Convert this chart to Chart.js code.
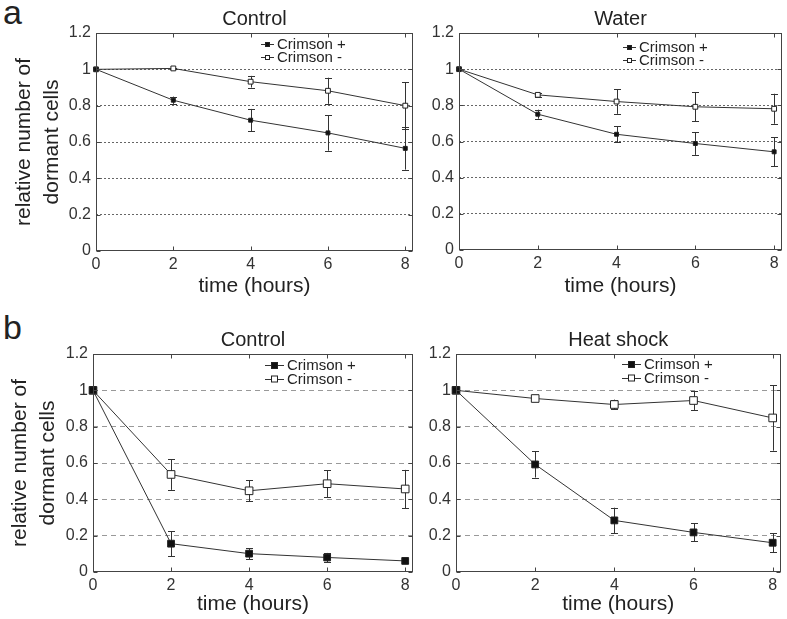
<!DOCTYPE html>
<html>
<head>
<meta charset="utf-8">
<script src="https://cdn.jsdelivr.net/npm/chart.js@4.4.1/dist/chart.umd.min.js"></script>
<style>
body{margin:0;background:#fff;width:787px;height:619px;position:relative;overflow:hidden;font-family:'Liberation Sans',Arial,sans-serif}
canvas{position:absolute}
.lbl{position:absolute;font-size:34px;color:#222;line-height:1}
</style>
</head>
<body>
<div class="lbl" style="left:3px;top:-5px">a</div>
<div class="lbl" style="left:3px;top:310px">b</div>
<canvas id="c1" width="420" height="299" style="left:0;top:0"></canvas>
<canvas id="c2" width="367" height="299" style="left:420px;top:0"></canvas>
<canvas id="c3" width="420" height="319" style="left:0;top:300px"></canvas>
<canvas id="c4" width="367" height="319" style="left:420px;top:300px"></canvas>
<script>
const hours = [0, 2, 4, 6, 8];
const xTicks = [0, 2, 4, 6, 8];
const yTicks = [0, 0.2, 0.4, 0.6, 0.8, 1, 1.2];
const seriesNames = ['Crimson +', 'Crimson -'];

// a - Control
const aCtrlPlus = [1, 0.83, 0.72, 0.65, 0.565];
const aCtrlPlusErr = [0, 0.02, 0.062, 0.098, 0.117];
const aCtrlMinus = [1, 1.005, 0.932, 0.882, 0.80];
const aCtrlMinusErr = [0, 0.005, 0.032, 0.072, 0.13];
// a - Water
const aWaterPlus = [1, 0.751, 0.64, 0.589, 0.543];
const aWaterPlusErr = [0, 0.025, 0.045, 0.063, 0.08];
const aWaterMinus = [1, 0.858, 0.821, 0.792, 0.781];
const aWaterMinusErr = [0, 0.01, 0.068, 0.08, 0.083];
// b - Control
const bCtrlPlus = [1, 0.156, 0.101, 0.08, 0.061];
const bCtrlPlusErr = [0, 0.069, 0.03, 0.025, 0.01];
const bCtrlMinus = [1, 0.537, 0.447, 0.486, 0.457];
const bCtrlMinusErr = [0, 0.085, 0.058, 0.075, 0.105];
// b - Heat shock
const bHeatPlus = [1, 0.592, 0.284, 0.218, 0.161];
const bHeatPlusErr = [0, 0.072, 0.07, 0.05, 0.052];
const bHeatMinus = [1, 0.955, 0.922, 0.944, 0.848];
const bHeatMinusErr = [0, 0.01, 0.027, 0.052, 0.18];

const FONT = "'Liberation Sans', Arial, sans-serif";

// error bars, frame, title, legend
const panelPlugin = {
    id: 'panel',
    beforeDatasetsDraw(chart) {
        const ctx = chart.ctx, ys = chart.scales.y;
        ctx.save();
        ctx.strokeStyle = '#333';
        ctx.lineWidth = 1;
        chart.data.datasets.forEach((ds, di) => {
            chart.getDatasetMeta(di).data.forEach((pt, i) => {
                const e = ds.err[i];
                if (!e) return;
                const v = ds.data[i].y;
                const x = Math.round(pt.x) + 0.5;
                const y1 = ys.getPixelForValue(v + e), y2 = ys.getPixelForValue(v - e);
                ctx.beginPath();
                ctx.moveTo(x, y1); ctx.lineTo(x, y2);
                ctx.moveTo(x - 3.5, Math.round(y1) + 0.5); ctx.lineTo(x + 3.5, Math.round(y1) + 0.5);
                ctx.moveTo(x - 3.5, Math.round(y2) + 0.5); ctx.lineTo(x + 3.5, Math.round(y2) + 0.5);
                ctx.stroke();
            });
        });
        ctx.restore();
    },
    afterDraw(chart, args, o) {
        const ctx = chart.ctx, a = chart.chartArea;
        const xs = chart.scales.x, ys = chart.scales.y;
        ctx.save();
        // frame with inward ticks
        ctx.strokeStyle = '#444';
        ctx.lineWidth = 1;
        const L = Math.round(a.left) + 0.5, R = Math.round(a.right) - 0.5;
        const T = Math.round(a.top) + 0.5, B = Math.round(a.bottom) - 0.5;
        ctx.strokeRect(L, T, R - L, B - T);
        ctx.beginPath();
        xTicks.forEach(v => {
            const x = Math.round(xs.getPixelForValue(v)) + 0.5;
            ctx.moveTo(x, B); ctx.lineTo(x, B - 4);
            ctx.moveTo(x, T); ctx.lineTo(x, T + 4);
        });
        yTicks.forEach(v => {
            const y = Math.round(ys.getPixelForValue(v)) + 0.5;
            ctx.moveTo(L, y); ctx.lineTo(L + 4, y);
            ctx.moveTo(R, y); ctx.lineTo(R - 4, y);
        });
        ctx.stroke();
        // title
        ctx.fillStyle = '#222';
        ctx.font = '20px ' + FONT;
        ctx.textAlign = 'center';
        ctx.textBaseline = 'middle';
        ctx.fillText(o.title, (a.left + a.right) / 2, a.top - 14);
        // legend
        ctx.textAlign = 'left';
        ctx.font = o.legendFont + 'px ' + FONT;
        chart.data.datasets.forEach((ds, i) => {
            const y = o.legendY + i * o.legendGap;
            const x0 = o.legendX, x1 = o.legendX + o.legendLine;
            ctx.strokeStyle = '#333';
            ctx.beginPath();
            ctx.moveTo(x0, Math.round(y) + 0.5); ctx.lineTo(x1, Math.round(y) + 0.5);
            ctx.stroke();
            const s = o.legendMark, cx = (x0 + x1) / 2;
            ctx.fillStyle = i === 0 ? '#111' : '#fff';
            ctx.fillRect(cx - s / 2, y - s / 2 + 0.5, s, s);
            ctx.strokeStyle = '#222';
            ctx.strokeRect(cx - s / 2, y - s / 2 + 0.5, s, s);
            ctx.fillStyle = '#222';
            ctx.fillText(ds.label, x1 + 3, y + 1);
        });
        ctx.restore();
    }
};

function makePanel(id, o) {
    const ds = (k, vals, errs) => ({
        label: seriesNames[k],
        data: vals.map((v, i) => ({x: hours[i], y: v})),
        err: errs,
        borderColor: '#333',
        borderWidth: 1,
        pointStyle: 'rect',
        pointRadius: k === 0 ? o.r : o.r + 0.6,
        pointBackgroundColor: k === 0 ? '#111' : '#fff',
        pointBorderColor: '#222',
        pointBorderWidth: 1,
        tension: 0,
        clip: false
    });
    new Chart(document.getElementById(id), {
        type: 'line',
        data: {datasets: [ds(0, o.plus, o.plusErr), ds(1, o.minus, o.minusErr)]},
        options: {
            responsive: false,
            animation: false,
            events: [],
            layout: {padding: {top: o.top, right: o.right, left: 0, bottom: o.bottom}},
            plugins: {legend: {display: false}, tooltip: {enabled: false}, panel: o},
            scales: {
                x: {
                    type: 'linear', min: 0, max: 8.2,
                    afterBuildTicks: s => { s.ticks = xTicks.map(v => ({value: v})); },
                    afterFit: s => { s.height = o.xh; },
                    grid: {display: false},
                    border: {display: false},
                    ticks: {color: '#333', font: {size: 16, family: FONT}, padding: -4, maxRotation: 0},
                    title: {display: true, text: 'time (hours)', color: '#222', font: {size: 21, family: FONT}, padding: 0}
                },
                y: {
                    min: 0, max: 1.2,
                    afterBuildTicks: s => { s.ticks = yTicks.map(v => ({value: v})); },
                    afterFit: s => { s.width = o.yw; },
                    grid: {
                        drawTicks: false,
                        color: c => (c.tick && (c.tick.value < 0.01 || c.tick.value > 1.19)) ? 'rgba(0,0,0,0)' : o.gridColor
                    },
                    border: {display: false, dash: o.dash},
                    ticks: {
                        color: '#333', font: {size: 16, family: FONT}, padding: 5,
                        callback: v => String(+(+v).toFixed(1))
                    },
                    title: {
                        display: o.ytitle, text: ['relative number of', 'dormant cells'],
                        color: '#222', font: {size: 21, family: FONT, lineHeight: 1.3},
                        padding: {top: o.ytpad, bottom: 0}
                    }
                }
            }
        },
        plugins: [panelPlugin]
    });
}

makePanel('c1', {
    title: 'Control', plus: aCtrlPlus, plusErr: aCtrlPlusErr, minus: aCtrlMinus, minusErr: aCtrlMinusErr,
    top: 33, right: 7, bottom: 0, xh: 48, yw: 96, ytitle: true, ytpad: 11, r: 2.8,
    gridColor: '#666', dash: [2, 2],
    legendX: 261, legendY: 44, legendGap: 13, legendLine: 13, legendMark: 4, legendFont: 15
});
makePanel('c2', {
    title: 'Water', plus: aWaterPlus, plusErr: aWaterPlusErr, minus: aWaterMinus, minusErr: aWaterMinusErr,
    top: 33, right: 4, bottom: 0, xh: 49, yw: 39, ytitle: false, ytpad: 0, r: 2.8,
    gridColor: '#666', dash: [2, 2],
    legendX: 203, legendY: 47, legendGap: 13, legendLine: 13, legendMark: 4, legendFont: 15
});
makePanel('c3', {
    title: 'Control', plus: bCtrlPlus, plusErr: bCtrlPlusErr, minus: bCtrlMinus, minusErr: bCtrlMinusErr,
    top: 54, right: 7, bottom: 2, xh: 45, yw: 93, ytitle: true, ytpad: 7, r: 4.8,
    gridColor: '#999', dash: [5, 4],
    legendX: 265, legendY: 65, legendGap: 13.5, legendLine: 19, legendMark: 6, legendFont: 15
});
makePanel('c4', {
    title: 'Heat shock', plus: bHeatPlus, plusErr: bHeatPlusErr, minus: bHeatMinus, minusErr: bHeatMinusErr,
    top: 54, right: 4, bottom: 2, xh: 45, yw: 36, ytitle: false, ytpad: 0, r: 4.8,
    gridColor: '#999', dash: [5, 4],
    legendX: 202, legendY: 64, legendGap: 13.5, legendLine: 19, legendMark: 6, legendFont: 15
});
</script>
</body>
</html>
